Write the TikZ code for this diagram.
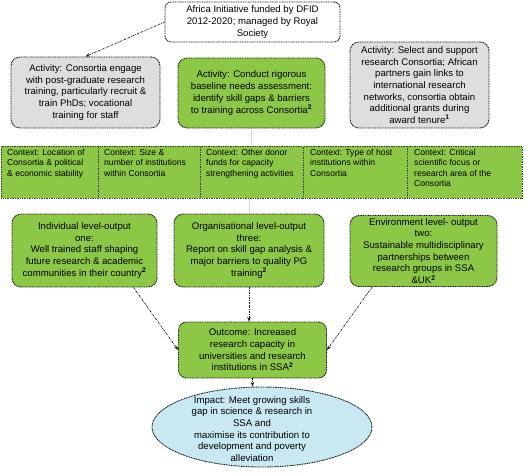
\documentclass[tikz,border=0pt]{standalone}
\usepackage{fontspec}
\setmainfont{Liberation Sans}
\usetikzlibrary{arrows.meta,shapes.geometric}
\newcommand\mainsz{\fontsize{9.6}{11.7}\selectfont}
\newcommand\ctxsz{\fontsize{8.6}{10.3}\selectfont}
\newcommand\sq{\textsuperscript{\textbf{2}}}
\definecolor{lgreen}{RGB}{140,200,70}
\definecolor{lgray}{RGB}{222,222,222}
\definecolor{lblue}{RGB}{200,232,242}
\definecolor{edge}{RGB}{20,20,20}
\tikzset{
  box/.style={draw=edge, line width=0.9pt, dash pattern=on 1pt off 0.7pt,
    rounded corners=9pt, align=center, inner sep=0pt, font=\mainsz},
  graybox/.style={box, fill=lgray},
  greenbox/.style={box, fill=lgreen},
  ctxcell/.style={draw=edge!75!lgreen, line width=0.8pt, dash pattern=on 1pt off 0.7pt,
    fill=lgreen, inner sep=0pt, anchor=north west},
  ctxtext/.style={align=left, font=\ctxsz, inner sep=0pt, anchor=north west},
  conn/.style={draw=edge, line width=0.7pt, dash pattern=on 2pt off 1pt on 0.7pt off 1pt,
    -{Stealth[length=4.5pt,width=3.5pt]}},
  faint/.style={draw=black!25, line width=0.6pt, dash pattern=on 0.6pt off 1pt}
}
\begin{document}
\begin{tikzpicture}[x=1pt,y=-1pt]
\useasboundingbox (0,0) rectangle (527,474);
% top
\node[box, fill=white, rounded corners=6pt, minimum width=175pt, minimum height=40pt] (top) at (252.5,22)
  {Africa Initiative funded by DFID\\2012-2020; managed by Royal\\Society};
% activities
\node[graybox, minimum width=149pt, minimum height=71pt] (act1) at (85.5,92.5)
  {Activity: Consortia engage\\with post-graduate research\\training, particularly recruit \&\\train PhDs; vocational\\training for staff};
\node[greenbox, minimum width=147pt, minimum height=70pt] (act2) at (251.5,93)
  {Activity: Conduct rigorous\\baseline needs assessment:\\identify skill gaps \& barriers\\to training across Consortia\sq};
\node[graybox, minimum width=139pt, minimum height=86pt] (act3) at (419.5,85)
  {Activity: Select and support\\research Consortia; African\\partners gain links to\\international research\\networks, consortia obtain\\additional grants during\\award tenure\textsuperscript{\textbf{1}}};
% context strip
\node[ctxcell, minimum width=97pt, minimum height=52pt] (ctx1) at (1,146) {};
\node[ctxcell, minimum width=102pt, minimum height=52pt] (ctx2) at (98,146) {};
\node[ctxcell, minimum width=103pt, minimum height=52pt] (ctx3) at (200,146) {};
\node[ctxcell, minimum width=104pt, minimum height=52pt] (ctx4) at (303,146) {};
\node[ctxcell, minimum width=114.5pt, minimum height=52pt] (ctx5) at (407,146) {};
\node[ctxtext] (t1) at (7,149) {Context: Location of\\Consortia \& political\\\& economic stability};
\node[ctxtext] (t2) at (104,149) {Context: Size \&\\number of institutions\\within Consortia};
\node[ctxtext] (t3) at (206,149) {Context: Other donor\\funds for capacity\\strengthening activities};
\node[ctxtext] (t4) at (310,149) {Context: Type of host\\institutions within\\Consortia};
\node[ctxtext] (t5) at (414,149) {Context: Critical\\scientific focus or\\research area of the\\Consortia};
% outputs
\node[greenbox, minimum width=145pt, minimum height=73pt] (out1) at (84.5,250.5)
  {Individual level-output\\one:\\Well trained staff shaping\\future research \& academic\\communities in their country\sq};
\node[greenbox, minimum width=150pt, minimum height=73pt] (out2) at (249,250.5)
  {Organisational level-output\\three:\\Report on skill gap analysis \&\\major barriers to quality PG\\training\sq};
\node[greenbox, minimum width=147pt, minimum height=71pt] (out3) at (423.5,251)
  {Environment level- output\\two:\\Sustainable multidisciplinary\\partnerships between\\research groups in SSA\\\&UK\sq};
% outcome
\node[greenbox, rounded corners=8pt, minimum width=148pt, minimum height=56pt] (outc) at (252.5,350)
  {Outcome: Increased\\research capacity in\\universities and research\\institutions in SSA\sq};
% impact
\node[draw=edge, line width=0.9pt, dash pattern=on 1pt off 0.7pt, fill=lblue, ellipse,
  minimum width=220pt, minimum height=80pt, inner sep=0pt] (imp) at (262,427) {};
\node[align=center, font=\mainsz, inner sep=0pt] (impt) at (252,429)
  {Impact: Meet growing skills\\gap in science \& research in\\SSA and\\maximise its contribution to\\development and poverty\\alleviation};
% connectors
\draw[conn] (top.west) -- (act1.north);
\draw[faint] (act2.south) -- (act2.south |- ctx3.north);
\draw[faint] (out2.north |- ctx3.south) -- (out2.north);
\draw[conn] (out1.-37) -- (outc.west);
\draw[conn] (out2.south) -- (out2.south |- outc.north);
\draw[conn] (out3.215) -- (outc.east);
\draw[conn] (outc.south) -- (outc.south |- imp.north);
\end{tikzpicture}
\end{document}
